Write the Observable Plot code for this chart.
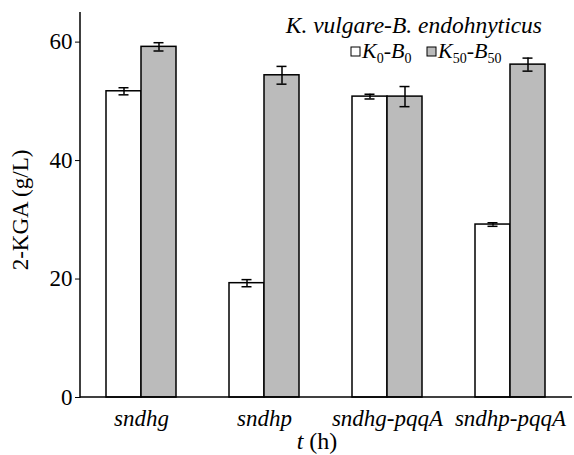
<!DOCTYPE html>
<html><head><meta charset="utf-8">
<script src="https://cdn.jsdelivr.net/npm/d3@7"></script>
<script src="https://cdn.jsdelivr.net/npm/@observablehq/plot@0.6"></script>
<style>body{margin:0;background:#fff} svg{display:block}</style>
</head><body><div id="chart"></div>
<script>
const categories = ["sndhg", "sndhp", "sndhg-pqqA", "sndhp-pqqA"];
const series = ["K0-B0", "K50-B50"];
const k0b0 = [51.7, 19.3, 50.8, 29.2];
const k0b0Err = [0.6, 0.6, 0.4, 0.3];
const k50b50 = [59.2, 54.4, 50.8, 56.2];
const k50b50Err = [0.7, 1.5, 1.7, 1.1];
const yTicks = [0, 20, 40, 60];
const colors = ["#ffffff", "#bbbbbb"];

const data = categories.flatMap((c, i) => [
  {cat: c, s: series[0], v: k0b0[i], e: k0b0Err[i]},
  {cat: c, s: series[1], v: k50b50[i], e: k50b50Err[i]}
]);

const W = 574, H = 455, ML = 80, MR = 2, MT = 12, MB = 58;
const PI = 0.43, PO = 0.215;
const FONT = "Liberation Serif";

const plot = Plot.plot({
  width: W, height: H,
  marginTop: MT, marginRight: MR, marginBottom: MB, marginLeft: ML,
  style: {fontFamily: FONT, fontSize: "23px", background: "#fff", color: "#000", overflow: "visible"},
  fx: {domain: categories, paddingInner: PI, paddingOuter: PO, label: null},
  x: {domain: series, padding: 0, axis: null},
  y: {domain: [0, 65]},
  color: {domain: series, range: colors},
  marks: [
    Plot.axisY({ticks: yTicks, tickSize: 5, tickPadding: 3, fontSize: 23,
      label: "2-KGA (g/L)", labelAnchor: "center", labelArrow: "none", labelOffset: 69}),
    Plot.axisFx({anchor: "bottom", tickSize: 0, tickPadding: 12, fontStyle: "italic", fontSize: 23, label: null}),
    Plot.barY(data, {fx: "cat", x: "s", y: "v", fill: "s", stroke: "#000", strokeWidth: 1.5}),
    Plot.ruleX(data, {fx: "cat", x: "s", y1: d => d.v - d.e, y2: d => d.v + d.e, strokeWidth: 1.5}),
    Plot.tickY(data, {fx: "cat", x: "s", y: d => d.v - d.e, insetLeft: 12.5, insetRight: 12.5, strokeWidth: 1.5}),
    Plot.tickY(data, {fx: "cat", x: "s", y: d => d.v + d.e, insetLeft: 12.5, insetRight: 12.5, strokeWidth: 1.5})
  ]
});
document.getElementById("chart").appendChild(plot);

const svg = d3.select(plot);
// The y axis belongs to the plot edge, not to the first facet: shift it left by the outer facet padding.
const fxScale = plot.scale("fx");
const axisShift = fxScale.apply(categories[0]) - ML;
svg.selectAll('g[aria-label^="y-axis"]').each(function () {
  const t = this.getAttribute("transform") || "";
  const dy = this.getAttribute("aria-label") === "y-axis label" ? 5 : 0;
  this.setAttribute("transform", `translate(${-axisShift},${dy}) ${t}`);
});
// axis lines along the plot's left and bottom edges
const y0 = plot.scale("y").apply(0);
const yTop = plot.scale("y").apply(65);
svg.append("line").attr("x1", ML).attr("x2", W - MR).attr("y1", y0).attr("y2", y0)
  .attr("stroke", "#000").attr("stroke-width", 1.5);
svg.append("line").attr("x1", ML).attr("x2", ML).attr("y1", yTop).attr("y2", y0 + 0.75)
  .attr("stroke", "#000").attr("stroke-width", 1.5);

// x-axis title: t (h)
const xt = svg.append("text").attr("x", 317).attr("y", 449).attr("text-anchor", "middle")
  .attr("font-family", FONT).attr("font-size", 24).attr("fill", "#000");
xt.append("tspan").attr("font-style", "italic").text("t");
xt.append("tspan").text(" (h)");

// legend
const lg = svg.append("g").attr("font-family", FONT).attr("fill", "#000");
lg.append("text").attr("x", 542).attr("y", 33).attr("text-anchor", "end")
  .attr("font-size", 23.5).attr("font-style", "italic").text("K. vulgare-B. endohnyticus");
function entry(x, i, sub) {
  lg.append("rect").attr("x", x).attr("y", 47).attr("width", 9).attr("height", 9)
    .attr("fill", colors[i]).attr("stroke", "#000").attr("stroke-width", 1);
  const t = lg.append("text").attr("x", x + 11).attr("y", 57.5).attr("text-anchor", "start")
    .attr("font-size", 22).attr("font-style", "italic");
  t.append("tspan").text("K");
  t.append("tspan").attr("font-size", 14).attr("font-style", "normal").attr("dy", 5).text(sub);
  t.append("tspan").attr("dy", -5).attr("font-style", "normal").text("-");
  t.append("tspan").text("B");
  t.append("tspan").attr("font-size", 14).attr("font-style", "normal").attr("dy", 5).text(sub);
}
entry(351, 0, "0");
entry(427, 1, "50");
</script>
</body></html>
